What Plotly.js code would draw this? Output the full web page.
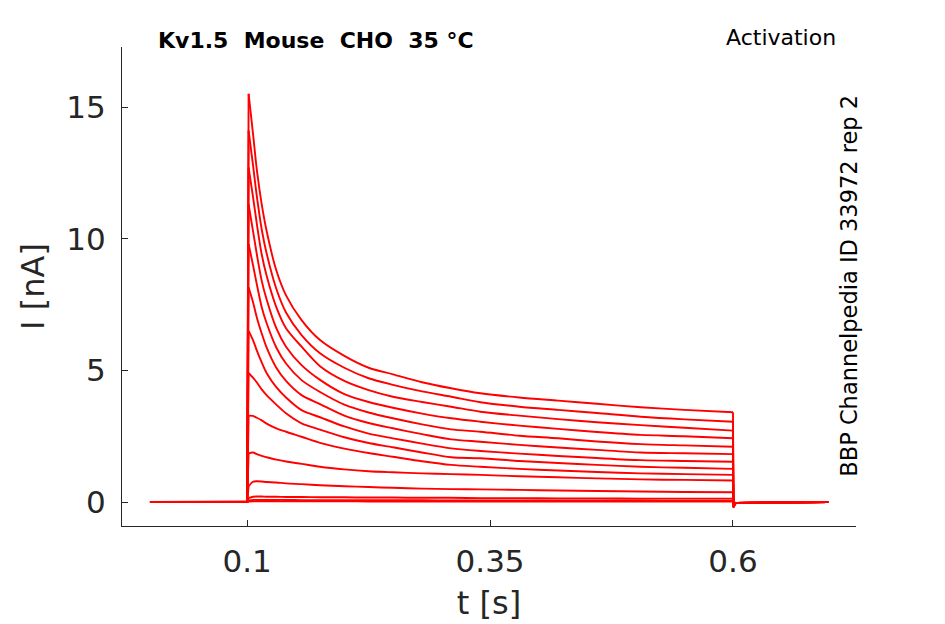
<!DOCTYPE html>
<html>
<head>
<meta charset="utf-8">
<script src="https://cdn.plot.ly/plotly-3.0.1.min.js"></script>
<style>
  html, body { margin: 0; padding: 0; background: #fff; }
  #chart { width: 945px; height: 624px; }
</style>
</head>
<body>
<div id="chart"></div>
<script>
// Kv1.5 activation sweeps, current in nA

// sample times during the 0.1 - 0.6 s step
const stepTimes = [0.1015, 0.106, 0.11, 0.115, 0.12, 0.13, 0.14, 0.156, 0.175, 0.2, 0.225,
                   0.25, 0.28, 0.31, 0.34, 0.38, 0.42, 0.46, 0.505, 0.55, 0.6];

const sweep01 = [15.5, 14.0, 12.6, 11.3, 10.3, 8.8, 7.85, 6.91, 6.15, 5.55, 5.1,
                 4.85, 4.55, 4.32, 4.13, 3.97, 3.85, 3.73, 3.6, 3.5, 3.41];
const sweep02 = [14.1, 12.8, 11.6, 10.35, 9.45, 8.1, 7.2, 6.34, 5.65, 5.1, 4.7,
                 4.45, 4.2, 4.0, 3.79, 3.62, 3.5, 3.38, 3.24, 3.14, 3.05];
const sweep03 = [12.7, 11.6, 10.55, 9.4, 8.6, 7.4, 6.6, 5.9, 5.16, 4.6, 4.25,
                 4.0, 3.8, 3.62, 3.43, 3.28, 3.15, 3.03, 2.92, 2.82, 2.71];
const sweep04 = [11.3, 10.3, 9.4, 8.4, 7.7, 6.6, 5.9, 5.2, 4.64, 4.1, 3.8,
                 3.58, 3.36, 3.18, 3.05, 2.9, 2.78, 2.66, 2.55, 2.5, 2.42];
const sweep05 = [9.8, 9.0, 8.26, 7.4, 6.8, 5.87, 5.26, 4.63, 4.18, 3.7, 3.4,
                 3.18, 2.95, 2.76, 2.67, 2.52, 2.42, 2.3, 2.2, 2.15, 2.1];
const sweep06 = [8.15, 7.6, 7.0, 6.4, 5.87, 5.1, 4.6, 4.06, 3.72, 3.28, 3.0,
                 2.8, 2.58, 2.38, 2.29, 2.17, 2.07, 1.98, 1.88, 1.85, 1.82];
const sweep07 = [6.5, 6.15, 5.75, 5.3, 4.9, 4.36, 3.97, 3.49, 3.22, 2.87, 2.6,
                 2.42, 2.22, 2.04, 1.94, 1.84, 1.75, 1.67, 1.59, 1.56, 1.53];
const sweep08 = [4.9, 4.72, 4.54, 4.28, 4.06, 3.7, 3.37, 2.99, 2.75, 2.46, 2.24,
                 2.08, 1.88, 1.7, 1.66, 1.56, 1.48, 1.41, 1.34, 1.3, 1.26];
const sweep09 = [3.28, 3.27, 3.2, 3.1, 2.98, 2.8, 2.67, 2.48, 2.25, 2.03, 1.86,
                 1.72, 1.55, 1.41, 1.34, 1.26, 1.2, 1.14, 1.09, 1.06, 1.03];
const sweep10 = [1.85, 1.88, 1.82, 1.75, 1.7, 1.61, 1.54, 1.45, 1.34, 1.24, 1.17,
                 1.13, 1.09, 1.06, 1.03, 0.98, 0.94, 0.9, 0.86, 0.84, 0.82];
const sweep11 = [0.6, 0.77, 0.79, 0.78, 0.76, 0.74, 0.71, 0.68, 0.64, 0.6, 0.57,
                 0.54, 0.51, 0.49, 0.48, 0.46, 0.44, 0.42, 0.4, 0.38, 0.37];
const sweep12 = [0.15, 0.2, 0.21, 0.21, 0.2, 0.2, 0.19, 0.19, 0.18, 0.18, 0.17,
                 0.17, 0.16, 0.16, 0.15, 0.15, 0.14, 0.14, 0.13, 0.13, 0.13];
const sweep13 = [0.06, 0.08, 0.08, 0.08, 0.08, 0.08, 0.08, 0.07, 0.07, 0.07, 0.07,
                 0.07, 0.07, 0.06, 0.06, 0.06, 0.06, 0.06, 0.06, 0.05, 0.05];
const sweep14 = [0.02, 0.03, 0.03, 0.03, 0.03, 0.03, 0.03, 0.03, 0.03, 0.03, 0.02,
                 0.02, 0.02, 0.02, 0.02, 0.02, 0.02, 0.02, 0.02, 0.02, 0.02];

// tail after the step (dip, settle)
const tailTimes = [0.6004, 0.603, 0.698];
const tailDip = [-0.22, -0.2, -0.18, -0.16, -0.15, -0.13, -0.12, -0.1, -0.09, -0.07, -0.05, -0.03, -0.02, -0.01];

const holdTimes = [0.0, 0.1];

const sweeps = [sweep01, sweep02, sweep03, sweep04, sweep05, sweep06, sweep07,
                sweep08, sweep09, sweep10, sweep11, sweep12, sweep13, sweep14];

const traces = [];
sweeps.forEach(function(vals, k) {
    // holding + step edge + tail as straight segments
    traces.push({
        x: holdTimes.concat([stepTimes[0]], [null], [0.6], tailTimes),
        y: [0, 0, vals[0], null, vals[vals.length - 1], tailDip[k], -0.03, 0],
        type: 'scatter', mode: 'lines',
        line: { color: '#ff0000', width: 1.9 },
        hoverinfo: 'skip', showlegend: false
    });
    // decay during the step, smoothed
    traces.push({
        x: stepTimes,
        y: vals,
        type: 'scatter', mode: 'lines',
        line: { color: '#ff0000', width: 1.9, shape: 'spline', smoothing: 0.8 },
        hoverinfo: 'skip', showlegend: false
    });
});

const axisColor = '#262626';
const font = 'DejaVu Sans, sans-serif';

const layout = {
    width: 945,
    height: 624,
    margin: { l: 122, r: 89, t: 47, b: 98 },
    paper_bgcolor: '#ffffff',
    plot_bgcolor: '#ffffff',
    font: { family: font, color: axisColor },
    xaxis: {
        range: [-0.0288, 0.7266],
        tickvals: [0.1, 0.35, 0.6],
        ticktext: ['0.1', '0.35', '0.6'],
        ticks: 'inside',
        ticklen: 6,
        tickcolor: axisColor,
        showline: true,
        linecolor: axisColor,
        linewidth: 1,
        showgrid: false,
        zeroline: false,
        ticklabelstandoff: 8,
        tickfont: { size: 31, family: font, color: axisColor },
        title: { text: 't [s]', font: { size: 32, family: font, color: axisColor }, standoff: 13 }
    },
    yaxis: {
        range: [-0.91, 17.28],
        tickvals: [0, 5, 10, 15],
        ticks: 'inside',
        ticklen: 6,
        tickcolor: axisColor,
        showline: true,
        linecolor: axisColor,
        linewidth: 1,
        showgrid: false,
        zeroline: false,
        ticklabelstandoff: 9,
        tickfont: { size: 31, family: font, color: axisColor },
        title: { text: 'I [nA]', font: { size: 32, family: font, color: axisColor }, standoff: 12 }
    },
    annotations: [
        {
            xref: 'paper', yref: 'paper', x: 0.047, y: 1.0146,
            xanchor: 'left', yanchor: 'middle', showarrow: false,
            text: '<b>Kv1.5\u00a0\u00a0Mouse\u00a0\u00a0CHO\u00a0\u00a035\u00a0°C</b>',
            font: { size: 22, family: font, color: '#000000' }
        },
        {
            xref: 'paper', yref: 'paper', x: 0.9755, y: 1.019,
            xanchor: 'right', yanchor: 'middle', showarrow: false,
            text: 'Activation',
            font: { size: 22, family: font, color: '#000000' }
        },
        {
            xref: 'paper', yref: 'paper', x: 0.990, y: 0.501,
            xanchor: 'center', yanchor: 'middle', showarrow: false,
            textangle: -90,
            text: 'BBP Channelpedia ID 33972 rep 2',
            font: { size: 22.5, family: font, color: '#000000' }
        }
    ]
};

Plotly.newPlot('chart', traces, layout, { displayModeBar: false, staticPlot: true });
</script>
</body>
</html>
